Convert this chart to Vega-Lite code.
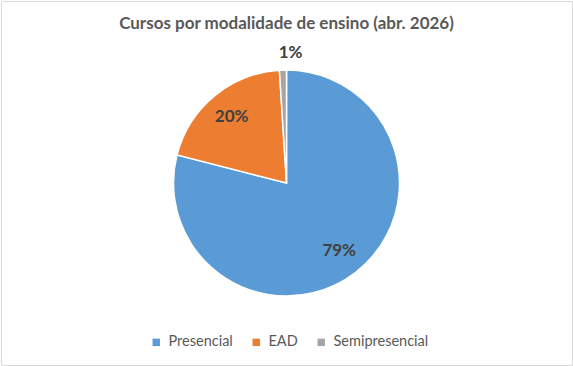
{
  "$schema": "https://vega.github.io/schema/vega-lite/v6.json",
  "width": 571,
  "height": 364,
  "autosize": {"type": "none"},
  "padding": 1,
  "background": "white",
  "view": {"stroke": "#D9D9D9", "strokeWidth": 1, "fill": "white"},
  "title": {
    "text": "Cursos por modalidade de ensino (abr. 2026)",
    "font": "Lato",
    "fontSize": 17,
    "fontWeight": "bold",
    "color": "#595959",
    "anchor": "middle",
    "offset": -32
  },
  "data": {
    "values": [
      {"modalidade": "Presencial", "pct": 79, "ordem": 1, "rotulo": "79%"},
      {"modalidade": "EAD", "pct": 20, "ordem": 2, "rotulo": "20%"},
      {"modalidade": "Semipresencial", "pct": 1, "ordem": 3, "rotulo": "1%"}
    ]
  },
  "encoding": {
    "theta": {"field": "pct", "type": "quantitative", "stack": true},
    "order": {"field": "ordem", "type": "quantitative"}
  },
  "layer": [
    {
      "mark": {"type": "arc", "radius": 113, "stroke": "white", "strokeWidth": 1.5},
      "encoding": {
        "color": {
          "field": "modalidade",
          "type": "nominal",
          "sort": ["Presencial", "EAD", "Semipresencial"],
          "scale": {"domain": ["Presencial", "EAD", "Semipresencial"], "range": ["#5B9BD5", "#ED7D31", "#A5A5A5"]},
          "legend": {
            "title": null,
            "orient": "none",
            "direction": "horizontal",
            "legendX": 148,
            "legendY": 334,
            "symbolType": "square",
            "symbolSize": 55,
            "symbolStrokeWidth": 0,
            "labelFont": "Lato",
            "labelFontSize": 14.5,
            "labelColor": "#595959",
            "columnPadding": 16,
            "labelOffset": 5
          }
        }
      }
    },
    {
      "transform": [{"filter": "datum.ordem < 3"}],
      "mark": {"type": "text", "radius": 86, "font": "Lato", "fontSize": 17, "fontWeight": "bold", "color": "#404040"},
      "encoding": {"text": {"field": "rotulo"}}
    },
    {
      "transform": [{"filter": "datum.ordem == 3"}],
      "mark": {"type": "text", "radius": 130, "font": "Lato", "fontSize": 17, "fontWeight": "bold", "color": "#404040"},
      "encoding": {"text": {"field": "rotulo"}}
    }
  ]
}
